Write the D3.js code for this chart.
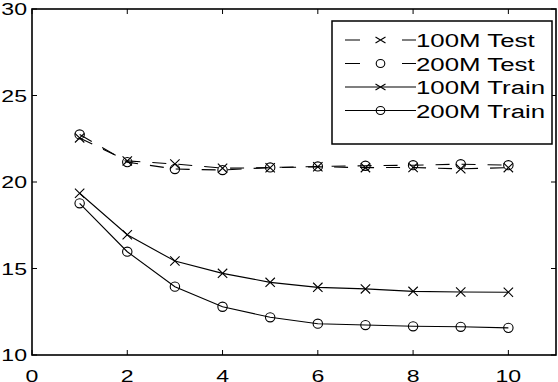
<!DOCTYPE html>
<html>
<head>
    <meta http-equiv="Content-Type" content="text/html;charset=utf-8">
    <script src="https://d3js.org/d3.v7.min.js"></script>
    <style>
        html, body {
            margin: 0;
            padding: 0;
            width: 558px;
            height: 382px;
            background: #fff;
            overflow: hidden;
        }
        svg {
            display: block;
        }
        text {
            font-family: "Liberation Sans", Arial, Helvetica, sans-serif;
            fill: #000;
        }
        path.series {
            fill: none;
            stroke: #000;
            stroke-width: 1.1px;
        }
        .marker {
            fill: none;
            stroke: #000;
            stroke-width: 1.1px;
        }
    </style>
</head>
<body>
<div id="chart"></div>
<script>
    // values
    var epochs = [1, 2, 3, 4, 5, 6, 7, 8, 9, 10];
    var test100M = [22.55, 21.22, 21.04, 20.80, 20.82, 20.88, 20.83, 20.84, 20.76, 20.83];
    var test200M = [22.75, 21.15, 20.75, 20.69, 20.84, 20.90, 20.94, 20.97, 21.03, 20.97];
    var train100M = [19.35, 16.95, 15.43, 14.72, 14.20, 13.91, 13.82, 13.68, 13.64, 13.63];
    var train200M = [18.77, 15.97, 13.95, 12.79, 12.18, 11.81, 11.73, 11.66, 11.63, 11.57];

    var xTicks = [0, 2, 4, 6, 8, 10];
    var yTicks = [10, 15, 20, 25, 30];
    var seriesNames = ["100M Test", "200M Test", "100M Train", "200M Train"];

    var width = 558,
        height = 382,
        margin = {top: 9, right: 2, bottom: 27, left: 32};

    // the picture is stretched sideways, so text is too
    var textStretch = 1.4;

    var series = [
        {name: seriesNames[0], values: test100M, marker: "x", dashed: true},
        {name: seriesNames[1], values: test200M, marker: "o", dashed: true},
        {name: seriesNames[2], values: train100M, marker: "x", dashed: false},
        {name: seriesNames[3], values: train200M, marker: "o", dashed: false}
    ];

    var x = d3.scaleLinear()
        .domain([0, 11])
        .range([margin.left, width - margin.right]);

    var y = d3.scaleLinear()
        .domain([10, 30])
        .range([height - margin.bottom, margin.top]);

    var svg = d3.select("#chart").append("svg")
        .attr("width", width)
        .attr("height", height);

    function drawMarker(g, type, cx, cy, rx, ry) {
        if (type === "o") {
            g.append("ellipse")
                .attr("class", "marker")
                .attr("cx", cx)
                .attr("cy", cy)
                .attr("rx", rx)
                .attr("ry", ry);
        } else {
            g.append("path")
                .attr("class", "marker")
                .attr("d", "M" + (cx - rx) + "," + (cy - ry) + "L" + (cx + rx) + "," + (cy + ry) +
                    "M" + (cx - rx) + "," + (cy + ry) + "L" + (cx + rx) + "," + (cy - ry));
        }
    }

    // series lines + markers
    var line = d3.line()
        .x(function (d, i) { return x(epochs[i]); })
        .y(function (d) { return y(d); });

    var plot = svg.append("g");

    series.forEach(function (s) {
        plot.append("path")
            .datum(s.values)
            .attr("class", "series")
            .attr("d", line)
            .style("stroke-dasharray", s.dashed ? "14,12" : null);

        s.values.forEach(function (v, i) {
            drawMarker(plot, s.marker, x(epochs[i]), y(v), 4.7, 4.6);
        });
    });

    // axes box with inward ticks on all sides
    var x0 = x.range()[0], x1 = x.range()[1],
        y0 = y.range()[0], y1 = y.range()[1],
        tickLen = 5;

    var axes = svg.append("g")
        .style("stroke", "#000")
        .style("stroke-width", "1.6px")
        .style("fill", "none");

    axes.append("rect")
        .attr("x", x0)
        .attr("y", y1)
        .attr("width", x1 - x0)
        .attr("height", y0 - y1);

    xTicks.forEach(function (t) {
        axes.append("line")
            .attr("x1", x(t)).attr("x2", x(t))
            .attr("y1", y0).attr("y2", y0 - tickLen)
            .style("stroke-width", "1px");
        axes.append("line")
            .attr("x1", x(t)).attr("x2", x(t))
            .attr("y1", y1).attr("y2", y1 + tickLen)
            .style("stroke-width", "1px");
    });

    yTicks.forEach(function (t) {
        axes.append("line")
            .attr("x1", x0).attr("x2", x0 + tickLen)
            .attr("y1", y(t)).attr("y2", y(t))
            .style("stroke-width", "1px");
        axes.append("line")
            .attr("x1", x1).attr("x2", x1 - tickLen)
            .attr("y1", y(t)).attr("y2", y(t))
            .style("stroke-width", "1px");
    });

    // tick labels
    var labels = svg.append("g")
        .style("font-size", "16.5px");

    xTicks.forEach(function (t) {
        labels.append("text")
            .attr("transform", "translate(" + x(t) + "," + (y0 + 26.5) + ") scale(" + textStretch + ",1)")
            .attr("text-anchor", "middle")
            .text(t);
    });

    yTicks.forEach(function (t) {
        labels.append("text")
            .attr("transform", "translate(" + (x0 - 5) + "," + (y(t) + 6) + ") scale(" + textStretch + ",1)")
            .attr("text-anchor", "end")
            .text(t);
    });

    // legend
    var legend = svg.append("g")
        .attr("transform", "translate(332,21)");

    legend.append("rect")
        .attr("width", 220)
        .attr("height", 123)
        .style("fill", "#fff")
        .style("stroke", "#000")
        .style("stroke-width", "1.5px");

    var rowGap = 23.5;

    series.forEach(function (s, i) {
        var ry = 19 + i * rowGap;
        legend.append("line")
            .attr("x1", 13).attr("x2", 84)
            .attr("y1", ry).attr("y2", ry)
            .style("stroke", "#000")
            .style("stroke-width", "1.1px")
            .style("stroke-dasharray", s.dashed ? "15,42" : null);

        drawMarker(legend, s.marker, 48.5, ry, s.marker === "o" ? 4.3 : 5, s.marker === "o" ? 4 : 3);

        legend.append("text")
            .attr("transform", "translate(84," + (ry + 7) + ") scale(1.36,1)")
            .style("font-size", "19px")
            .text(s.name);
    });
</script>
</body>
</html>
